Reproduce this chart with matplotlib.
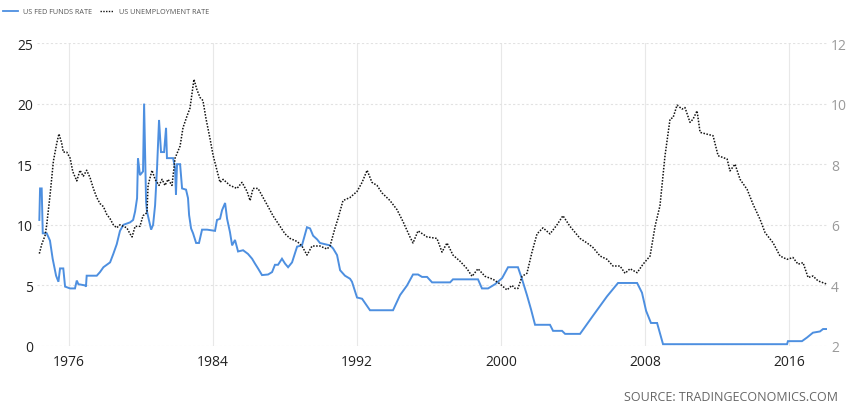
import matplotlib
matplotlib.use("Agg")
import matplotlib.pyplot as plt
from matplotlib.lines import Line2D

plt.rcParams['font.family'] = ['Open Sans', 'DejaVu Sans']

# ---- data (decimal years) ----
fed_years = [1974.35, 1974.39, 1974.48, 1974.54, 1974.76, 1974.94, 1975.09, 1975.28, 1975.41, 1975.50,
             1975.68, 1975.78, 1976.06, 1976.33, 1976.43, 1976.52, 1976.89, 1976.94, 1976.98, 1977.54,
             1977.72, 1977.91, 1978.28, 1978.46, 1978.65, 1978.83, 1979.02, 1979.39, 1979.56, 1979.67,
             1979.78, 1979.83, 1979.94, 1980.11, 1980.17, 1980.28, 1980.33, 1980.56, 1980.67, 1980.78,
             1980.89, 1981.00, 1981.11, 1981.28, 1981.39, 1981.44, 1981.78, 1981.89, 1981.94, 1982.00,
             1982.17, 1982.28, 1982.50, 1982.61, 1982.67, 1982.78, 1982.89, 1983.06, 1983.22, 1983.39,
             1983.67, 1984.11, 1984.22, 1984.39, 1984.50, 1984.67, 1984.78, 1984.94, 1985.06, 1985.22,
             1985.39, 1985.67, 1985.94, 1986.17, 1986.33, 1986.50, 1986.72, 1987.06, 1987.28, 1987.44,
             1987.61, 1987.83, 1988.00, 1988.17, 1988.39, 1988.67, 1988.94, 1989.22, 1989.39, 1989.56,
             1989.78, 1989.94, 1990.50, 1990.67, 1990.89, 1991.06, 1991.33, 1991.61, 1991.72, 1992.00,
             1992.28, 1992.72, 1994.00, 1994.39, 1994.78, 1995.11, 1995.39, 1995.61, 1995.89, 1996.17,
             1997.17, 1997.33, 1998.72, 1998.94, 1999.28, 1999.67, 2000.06, 2000.39, 2000.94, 2001.17,
             2001.44, 2001.67, 2001.89, 2002.72, 2002.89, 2003.39, 2003.56, 2004.39, 2005.11, 2005.89,
             2006.50, 2007.56, 2007.83, 2008.06, 2008.33, 2008.67, 2009.00, 2015.89, 2015.94, 2016.72,
             2017.00, 2017.33, 2017.72, 2017.89, 2018.11]
fed_rate = [10.4, 13.0, 13.0, 9.3, 9.3, 8.7, 7.2, 5.8, 5.3, 6.4,
            6.4, 4.9, 4.75, 4.75, 5.4, 5.1, 5.0, 4.9, 5.8, 5.8,
            6.1, 6.5, 6.9, 7.6, 8.4, 9.5, 10.0, 10.2, 10.4, 11.1,
            12.2, 15.5, 14.1, 14.4, 20.0, 11.9, 11.1, 9.6, 10.0, 11.6,
            14.7, 18.65, 16.0, 16.0, 18.0, 15.5, 15.5, 14.7, 12.5, 15.0,
            15.0, 13.0, 12.9, 12.2, 10.8, 9.7, 9.3, 8.5, 8.5, 9.6,
            9.6, 9.5, 10.4, 10.5, 11.2, 11.8, 10.5, 9.4, 8.3, 8.75,
            7.8, 7.9, 7.6, 7.2, 6.8, 6.4, 5.85, 5.9, 6.1, 6.7,
            6.7, 7.2, 6.8, 6.5, 6.9, 8.2, 8.3, 9.8, 9.7, 9.1,
            8.8, 8.5, 8.3, 8.05, 7.5, 6.25, 5.8, 5.55, 5.3, 4.0,
            3.9, 2.95, 2.95, 4.2, 5.0, 5.9, 5.9, 5.7, 5.7, 5.25,
            5.25, 5.5, 5.5, 4.75, 4.75, 5.1, 5.6, 6.5, 6.5, 5.5,
            4.2, 3.0, 1.75, 1.75, 1.25, 1.25, 1.0, 1.0, 2.5, 4.1,
            5.2, 5.2, 4.4, 2.9, 1.9, 1.9, 0.15, 0.15, 0.4, 0.4,
            0.7, 1.1, 1.2, 1.4, 1.4]

unemp_years = [1974.35, 1974.48, 1974.67, 1974.76, 1974.94, 1975.13, 1975.32, 1975.44, 1975.59, 1975.68,
               1975.87, 1976.06, 1976.21, 1976.43, 1976.61, 1976.79, 1976.98, 1977.17, 1977.35, 1977.54,
               1977.72, 1977.91, 1978.09, 1978.28, 1978.46, 1978.65, 1978.83, 1979.21, 1979.39, 1979.50,
               1979.67, 1979.94, 1980.11, 1980.33, 1980.39, 1980.61, 1980.78, 1981.00, 1981.17, 1981.33,
               1981.50, 1981.72, 1981.89, 1982.17, 1982.33, 1982.56, 1982.72, 1982.94, 1983.11, 1983.28,
               1983.44, 1983.61, 1983.83, 1984.00, 1984.22, 1984.39, 1984.56, 1984.94, 1985.33, 1985.61,
               1985.89, 1986.06, 1986.22, 1986.50, 1986.78, 1987.06, 1987.33, 1987.72, 1988.00, 1988.28,
               1988.67, 1988.94, 1989.22, 1989.50, 1989.94, 1990.33, 1990.50, 1990.78, 1990.94, 1991.22,
               1991.61, 1992.00, 1992.28, 1992.56, 1992.83, 1993.11, 1993.39, 1993.83, 1994.22, 1994.56,
               1994.94, 1995.11, 1995.39, 1995.89, 1996.44, 1996.72, 1997.00, 1997.33, 1997.72, 1998.11,
               1998.39, 1998.72, 1999.11, 1999.56, 1999.94, 2000.33, 2000.61, 2000.78, 2000.94, 2001.17,
               2001.44, 2001.72, 2002.00, 2002.33, 2002.72, 2003.11, 2003.44, 2003.83, 2004.39, 2004.78,
               2005.11, 2005.50, 2005.89, 2006.22, 2006.61, 2006.89, 2007.17, 2007.56, 2007.89, 2008.28,
               2008.56, 2008.83, 2009.11, 2009.39, 2009.56, 2009.78, 2010.06, 2010.22, 2010.50, 2010.67,
               2010.89, 2011.06, 2011.44, 2011.78, 2012.06, 2012.56, 2012.72, 2013.00, 2013.28, 2013.67,
               2014.00, 2014.39, 2014.67, 2015.11, 2015.50, 2015.89, 2016.22, 2016.50, 2016.78, 2017.06,
               2017.33, 2017.61, 2018.11]
unemp_rate = [5.05, 5.35, 5.65, 6.0, 6.95, 8.1, 8.7, 9.0, 8.7, 8.4,
              8.4, 8.2, 7.75, 7.45, 7.8, 7.6, 7.8, 7.55, 7.2, 6.9,
              6.7, 6.6, 6.35, 6.2, 6.0, 5.9, 6.0, 5.9, 5.7, 5.6,
              5.95, 5.95, 6.3, 6.4, 7.3, 7.8, 7.5, 7.3, 7.5, 7.3,
              7.5, 7.3, 8.2, 8.6, 9.2, 9.6, 9.85, 10.8, 10.45, 10.2,
              10.1, 9.5, 8.85, 8.3, 7.8, 7.4, 7.5, 7.3, 7.2, 7.4,
              7.1, 6.8, 7.2, 7.2, 6.9, 6.6, 6.3, 5.95, 5.7, 5.55,
              5.45, 5.3, 5.0, 5.3, 5.3, 5.2, 5.3, 5.9, 6.2, 6.8,
              6.9, 7.1, 7.4, 7.8, 7.4, 7.3, 7.05, 6.8, 6.5, 6.1,
              5.6, 5.4, 5.8, 5.6, 5.55, 5.1, 5.4, 5.0, 4.8, 4.55,
              4.3, 4.55, 4.3, 4.2, 4.05, 3.85, 4.0, 3.9, 3.9, 4.3,
              4.4, 5.1, 5.7, 5.9, 5.7, 6.0, 6.3, 5.95, 5.55, 5.4,
              5.25, 4.97, 4.86, 4.64, 4.64, 4.4, 4.55, 4.42, 4.7, 4.97,
              5.96, 6.63, 8.28, 9.49, 9.54, 9.95, 9.82, 9.87, 9.38, 9.49,
              9.76, 9.05, 8.99, 8.94, 8.28, 8.17, 7.78, 8.0, 7.5, 7.17,
              6.68, 6.18, 5.74, 5.41, 4.97, 4.86, 4.92, 4.7, 4.75, 4.26,
              4.31, 4.15, 4.04]

x_ticks = [1976, 1984, 1992, 2000, 2008, 2016]
left_ticks = [0, 5, 10, 15, 20, 25]
right_ticks = [2, 4, 6, 8, 10, 12]

fed_label = "US FED FUNDS RATE"
unemp_label = "US UNEMPLOYMENT RATE"
source_text = "SOURCE: TRADINGECONOMICS.COM"

# ---- figure ----
W, H = 850, 406
fig = plt.figure(figsize=(W / 100, H / 100), dpi=100)
ax = fig.add_axes([37 / W, 1 - 347 / H, (827 - 37) / W, (347 - 44) / H])
ax2 = ax.twinx()

fed_color = "#4d8fe0"
ax.plot(fed_years, fed_rate, color=fed_color, lw=1.4, zorder=3, solid_joinstyle="miter")
ax2.plot(unemp_years, unemp_rate, color="#111111", lw=1.1, ls=(0, (1, 1)), zorder=3)

ax.set_xlim(1974.22, 2018.11)
ax.set_ylim(0, 25)
ax2.set_ylim(2, 12)
ax.set_xticks(x_ticks)
ax.set_xticklabels([str(t) for t in x_ticks])
ax.set_yticks(left_ticks)
ax2.set_yticks(right_ticks)

for a in (ax, ax2):
    for s in a.spines.values():
        s.set_visible(False)

ax.tick_params(axis="both", length=0)
ax.tick_params(axis="y", pad=3, labelsize=10, labelcolor="#222222")
ax.tick_params(axis="x", pad=6, labelsize=10, labelcolor="#222222")
ax2.tick_params(axis="y", length=0, pad=3, labelsize=10, labelcolor="#9a9a9a")

ax.yaxis.grid(True, color="#e2e2e2", lw=0.8, ls=(0, (2, 2)))
ax.xaxis.grid(True, color="#e8e8e8", lw=0.8)
ax.set_axisbelow(True)

# ---- legend (top-left, small) ----
ly = 1 - 12 / H
fig.add_artist(Line2D([3 / W, 18 / W], [ly, ly], color=fed_color, lw=1.3))
fig.text(23 / W, ly, fed_label, fontsize=5.2, color="#555555", va="center", ha="left")
fig.add_artist(Line2D([100 / W, 113 / W], [ly, ly], color="#111111", lw=1.0, ls=(0, (1, 1))))
fig.text(119 / W, ly, unemp_label, fontsize=5.2, color="#555555", va="center", ha="left")

# ---- source ----
fig.text(838 / W, 1 - 398 / H, source_text, fontsize=9, color="#666666", ha="right", va="center")

fig.savefig("out.png", dpi=100)
